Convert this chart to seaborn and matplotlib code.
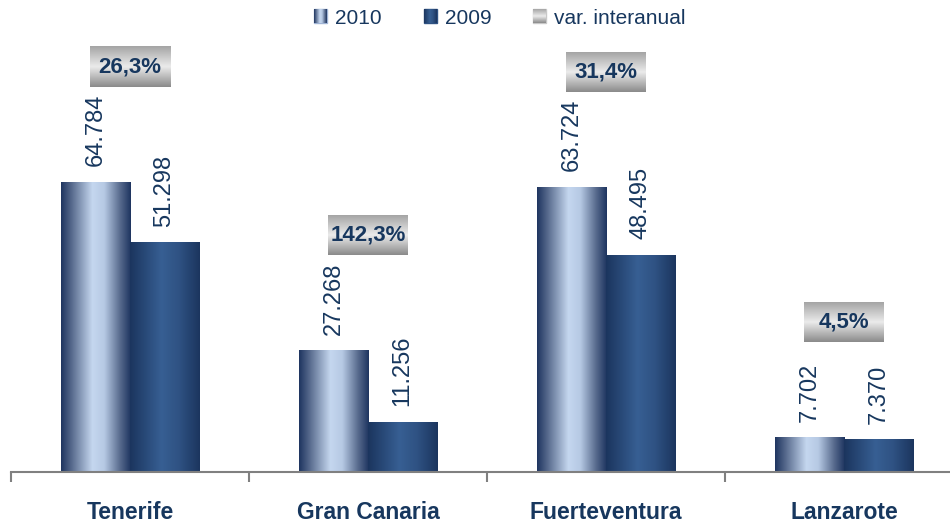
import numpy as np
import pandas as pd
import matplotlib
matplotlib.use('Agg')
import matplotlib.pyplot as plt
from matplotlib.colors import LinearSegmentedColormap
from matplotlib.patches import Rectangle
import seaborn as sb

# data
islands = ['Tenerife', 'Gran Canaria', 'Fuerteventura', 'Lanzarote']
years = ['2010', '2009']
values2010 = [64784, 27268, 63724, 7702]
values2009 = [51298, 11256, 48495, 7370]
varLabels = ['26,3%', '142,3%', '31,4%', '4,5%']

NAVY = '#17375E'

# gradients for the bars and the label boxes
cmap2010 = LinearSegmentedColormap.from_list('g2010', [
    (0.0, '#1e3560'), (0.15, '#56698c'), (0.45, '#c5d7ef'),
    (0.62, '#b6c9e4'), (0.85, '#56698c'), (1.0, '#1e3560')])
cmap2009 = LinearSegmentedColormap.from_list('g2009', [
    (0.0, '#1b355e'), (0.45, '#375f93'), (0.7, '#2f5283'), (1.0, '#1b355e')])
cmapGray = LinearSegmentedColormap.from_list('gray', [
    (0.0, '#a4a4a4'), (0.5, '#ebebeb'), (1.0, '#8a8a8a')])
hgrad = np.linspace(0, 1, 256).reshape(1, -1)
vgrad = np.linspace(0, 1, 256).reshape(-1, 1)


def fmt(v):
    return f'{v:,}'.replace(',', '.')


df = pd.DataFrame({'isla': islands * 2,
                   'year': [years[0]] * 4 + [years[1]] * 4,
                   'value': values2010 + values2009})

sb.set_style('white')
plt.rcParams['font.family'] = ['Liberation Sans', 'DejaVu Sans']

fig = plt.figure(figsize=(9.5, 5.26), dpi=100)
ax = fig.add_axes([11 / 950, 54 / 526, 952 / 950, 448 / 526])

sb.barplot(data=df, x='isla', y='value', hue='year', hue_order=years,
           palette=['#9fb4d6', '#2f5283'], width=0.58, ax=ax, legend=False)

ax.set_xlim(-0.5, 3.5)
ax.set_ylim(0, 100000)

# gradient fill clipped to each bar
for cont, cm in zip(ax.containers, [cmap2010, cmap2009]):
    for bar in cont:
        bar.set_edgecolor('none')
        x0, y0 = bar.get_x(), bar.get_y()
        im = ax.imshow(hgrad, extent=[x0, x0 + bar.get_width(), y0, y0 + bar.get_height()],
                       aspect='auto', cmap=cm, zorder=bar.get_zorder() + 0.1)
        im.set_clip_path(bar)
        ax.annotate(fmt(int(bar.get_height())), (x0 + bar.get_width() / 2, bar.get_height()),
                    xytext=(0, 11), textcoords='offset points', rotation=90,
                    ha='center', va='bottom', fontsize=17, color=NAVY,
                    family=['Liberation Sans Narrow', 'Liberation Sans', 'DejaVu Sans'])

ax.set_xlim(-0.5, 3.5)
ax.set_ylim(0, 100000)

# percentage boxes above each group
for i, lab in enumerate(varLabels):
    top = max(values2010[i], values2009[i])
    cx, cy = ax.transData.transform((i, top))
    cy += 115
    inv = ax.transData.inverted()
    (dx0, dy0) = inv.transform((cx - 40, cy - 20))
    (dx1, dy1) = inv.transform((cx + 40, cy + 20))
    ax.imshow(vgrad, extent=[dx0, dx1, dy0, dy1], aspect='auto', cmap=cmapGray,
              origin='upper', zorder=4)
    ax.text(i, (dy0 + dy1) / 2, lab, ha='center', va='center', fontsize=16,
            fontweight='bold', color=NAVY, zorder=5)

ax.set_xlim(-0.5, 3.5)
ax.set_ylim(0, 100000)

# axis styling
for s in ['left', 'right', 'top']:
    ax.spines[s].set_visible(False)
ax.spines['bottom'].set_color('#808080')
ax.spines['bottom'].set_linewidth(1.5)
ax.set_yticks([])
ax.set_xlabel('')
ax.set_ylabel('')
ax.set_xticks(range(4))
ax.set_xticklabels(islands, fontsize=16.5, fontweight='bold', color=NAVY)
ax.set_xticks(np.arange(-0.5, 4, 1), minor=True)
ax.tick_params(axis='x', which='major', length=0, pad=21)
ax.tick_params(axis='x', which='minor', length=7, width=1.5, color='#808080', direction='out')
ax.tick_params(axis='x', which='minor', bottom=True)

# legend
handles = [Rectangle((0, 0), 1, 1, color=c) for c in ['#9fb4d6', '#2f5283', '#c8c8c8']]
leg = fig.legend(handles, years + ['var. interanual'], loc='center',
                 bbox_to_anchor=(500 / 950, 1 - 18 / 526), ncol=3, frameon=False,
                 fontsize=15, handlelength=0.62, handleheight=0.62,
                 handletextpad=0.4, columnspacing=2.0)
for t in leg.get_texts():
    t.set_color(NAVY)

# gradient swatches drawn over the legend handles
fig.canvas.draw()
W, H = fig.bbox.width, fig.bbox.height
for h, cm, g in zip(leg.legend_handles, [cmap2010, cmap2009, cmapGray], [hgrad, hgrad, vgrad]):
    bb = h.get_window_extent()
    lax = fig.add_axes([bb.x0 / W, bb.y0 / H, bb.width / W, bb.height / H])
    lax.imshow(g, aspect='auto', cmap=cm)
    lax.axis('off')
    lax.set_zorder(10)

fig.savefig('out.png', dpi=100)
